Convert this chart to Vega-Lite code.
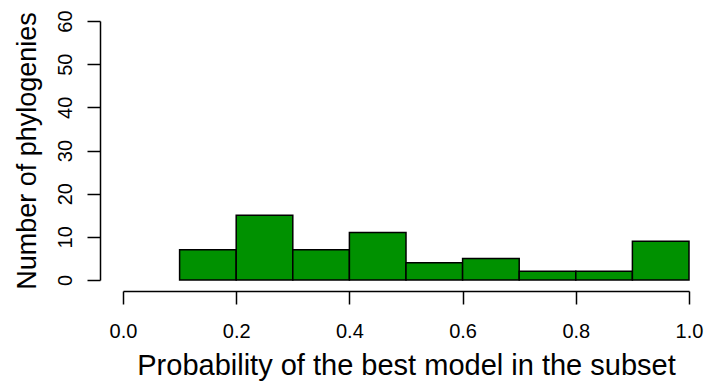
{
  "$schema": "https://vega.github.io/schema/vega-lite/v6.json",
  "width": 566,
  "height": 259,
  "autosize": {"type": "none"},
  "padding": {"left": 123, "top": 21, "right": 18, "bottom": 103},
  "background": "white",
  "config": {
    "view": {"stroke": null},
    "font": "Liberation Sans",
    "axis": {
      "grid": false,
      "domainColor": "black",
      "domainWidth": 1.5,
      "tickColor": "black",
      "tickWidth": 1.5,
      "tickSize": 13,
      "labelColor": "black",
      "labelFont": "Liberation Sans",
      "labelFontSize": 20,
      "titleColor": "black",
      "titleFont": "Liberation Sans",
      "titleFontSize": 28,
      "titleFontWeight": "normal"
    }
  },
  "data": {
    "values": [
      {"start": 0.1, "end": 0.2, "count": 7},
      {"start": 0.2, "end": 0.3, "count": 15},
      {"start": 0.3, "end": 0.4, "count": 7},
      {"start": 0.4, "end": 0.5, "count": 11},
      {"start": 0.5, "end": 0.6, "count": 4},
      {"start": 0.6, "end": 0.7, "count": 5},
      {"start": 0.7, "end": 0.8, "count": 2},
      {"start": 0.8, "end": 0.9, "count": 2},
      {"start": 0.9, "end": 1.0, "count": 9}
    ]
  },
  "mark": {"type": "rect", "fill": "#009100", "stroke": "black", "strokeWidth": 1.5},
  "encoding": {
    "x": {
      "field": "start",
      "type": "quantitative",
      "scale": {"domain": [0, 1], "nice": false, "zero": false},
      "axis": {
        "title": "Probability of the best model in the subset",
        "values": [0, 0.2, 0.4, 0.6, 0.8, 1.0],
        "format": ".1f",
        "offset": 11,
        "labelFontSize": 20,
        "labelPadding": 17,
        "labelFlush": false,
        "titleFontSize": 29,
        "titlePadding": 10
      }
    },
    "x2": {"field": "end"},
    "y": {
      "field": "count",
      "type": "quantitative",
      "scale": {"domain": [0, 60], "nice": false},
      "axis": {
        "title": "Number of phylogenies",
        "values": [0, 10, 20, 30, 40, 50, 60],
        "offset": 23,
        "labelFontSize": 20,
        "labelAngle": -90,
        "labelAlign": "center",
        "labelBaseline": "alphabetic",
        "labelPadding": 16,
        "labelFlush": false,
        "titleFontSize": 27,
        "titlePadding": 14
      }
    },
    "y2": {"datum": 0}
  }
}
